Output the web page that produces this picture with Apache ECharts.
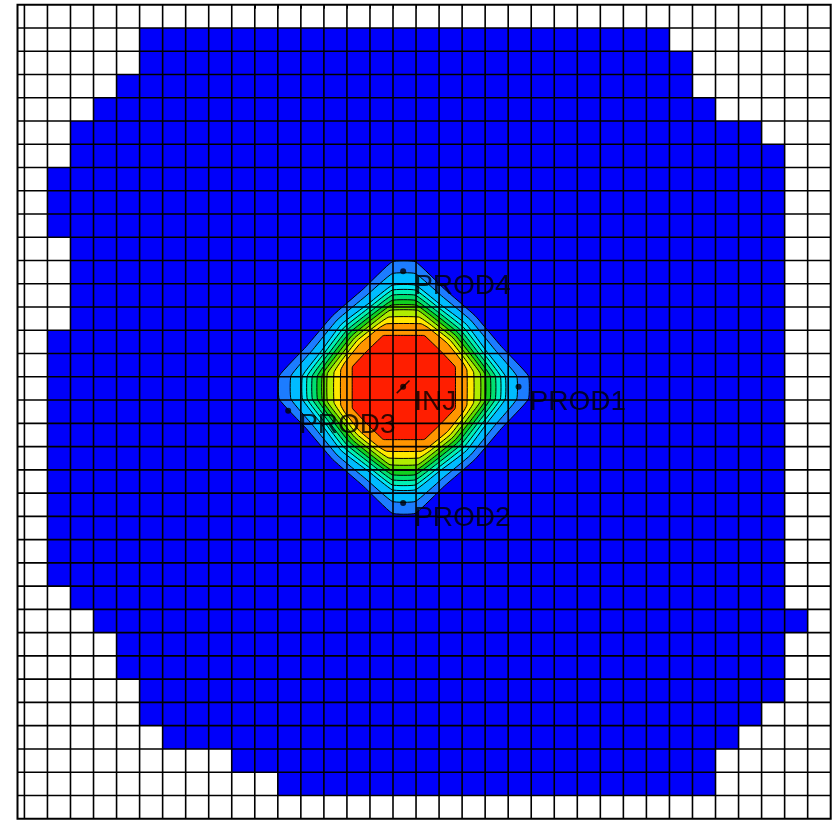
<!DOCTYPE html>
<html>
<head>
<meta charset="utf-8">
<script src="https://cdn.jsdelivr.net/npm/echarts@6/dist/echarts.min.js"></script>
<style>
  html, body { margin: 0; padding: 0; background: #ffffff; }
  #chart { width: 837px; height: 822px; }
</style>
</head>
<body>
<div id="chart"></div>
<script>
// Active cells of the 35-row grid: first and last active column in each row (row 0 = top)
const rowFirst = [null, 5, 5, 4, 3, 2, 2, 1, 1, 1, 2, 2, 2, 2, 1, 1, 1, 1, 1, 1, 1, 1, 1, 1, 1, 2, 3, 4, 4, 5, 5, 6, 9, 11, null];
const rowLast  = [null, 27, 28, 28, 29, 31, 32, 32, 32, 32, 32, 32, 32, 32, 32, 32, 32, 32, 32, 32, 32, 32, 32, 32, 32, 32, 33, 32, 32, 32, 31, 30, 29, 29, null];

// Contour bands around the injector, outermost first
const levelColors = ['#1c7cff', '#00bcff', '#00e8f4', '#00f0b4', '#00e070', '#10d020', '#60dc00', '#b0ec00', '#ffe800', '#ff9600', '#ff1e00'];
// Band boundary distance (cells) from the injector along the axes
const tipRadius = [5.41, 4.90, 4.40, 4.19, 3.97, 3.75, 3.54, 3.32, 3.03, 2.74, 2.24];
// Half width (cells) of the flat part at each axis tip
const tipHalfWidth = [0.5, 0.5, 0.5, 0.5, 0.5, 0.5, 0.55, 0.6, 0.65, 0.75, 0.85];
// Boundary distance at 22.5 degrees off the axes
const offAxisRadius = [4.59, 4.27, 3.93, 3.77, 3.60, 3.44, 3.28, 3.12, 2.95, 2.78, 2.40];
// Boundary distance on the diagonals
const diagonalRadius = [4.37, 4.10, 3.84, 3.66, 3.49, 3.33, 3.17, 3.02, 2.86, 2.68, 2.24];

// Wells: grid position (column, row) of each well marker
const wellNames = ['INJ', 'PROD1', 'PROD2', 'PROD3', 'PROD4'];
const wellCol = [16.44, 21.45, 16.44, 11.45, 16.44];
const wellRow = [16.43, 16.43, 21.43, 17.46, 11.46];

const plumeCenter = [wellCol[0] + 0.03, wellRow[0] + 0.03];

const cellBlue = '#0000fa';
const lineColor = '#000000';

// Column and row divisions of the grid
const colEdges = [];
for (let c = 0; c <= 35; c++) colEdges.push(c);
const rowEdges = [];
for (let r = 1; r <= 34; r++) rowEdges.push(r);

const cellData = [];
rowFirst.forEach(function (f, r) {
  if (f !== null) cellData.push([r, f, rowLast[r]]);
});

const lineData = [];
colEdges.forEach(function (c) { if (c < 35) lineData.push([0, c]); });
rowEdges.forEach(function (r) { lineData.push([1, r]); });

const X_MIN = -0.3, X_MAX = 35, Y_MIN = 0, Y_MAX = 35;

// Boundary of band i: 16 directions counter-clockwise from east
function contourPoints(api, i) {
  const pts = [];
  const cx = plumeCenter[0], cy = plumeCenter[1];
  const w = tipHalfWidth[i];
  for (let k = 0; k < 16; k++) {
    const a = k * Math.PI / 8;
    const ux = Math.cos(a), uy = Math.sin(a);
    if (k % 4 === 0) {
      const r = tipRadius[i];
      const ax = Math.round(ux), ay = Math.round(uy);
      const px = -ay, py = ax;
      const p1 = [r * ax - w * px, r * ay - w * py];
      const p2 = [r * ax + w * px, r * ay + w * py];
      pts.push(api.coord([cx + p1[0], cy - p1[1]]));
      pts.push(api.coord([cx + p2[0], cy - p2[1]]));
    } else {
      const r = (k % 2 === 0) ? diagonalRadius[i] : offAxisRadius[i];
      pts.push(api.coord([cx + r * ux, cy - r * uy]));
    }
  }
  return pts;
}

const chart = echarts.init(document.getElementById('chart'), null, { renderer: 'canvas' });

const option = {
  animation: false,
  backgroundColor: '#ffffff',
  grid: {
    left: 17.5, right: 6.3, top: 4.7, bottom: 3.3,
    show: true, borderColor: '#000000', borderWidth: 2, backgroundColor: 'transparent'
  },
  xAxis: {
    type: 'value', min: X_MIN, max: X_MAX,
    axisLine: { show: false },
    splitLine: { show: false },
    axisLabel: { show: false },
    axisTick: { show: true, inside: false, length: 4, customValues: colEdges, lineStyle: { color: '#000000', width: 1 } }
  },
  yAxis: {
    type: 'value', min: Y_MIN, max: Y_MAX, inverse: true,
    axisLine: { show: false }, splitLine: { show: false },
    axisLabel: { show: false }, axisTick: { show: false }
  },
  series: [
    {
      name: 'cells', type: 'custom', z: 1,
      data: cellData,
      renderItem: function (params, api) {
        const r = api.value(0), f = api.value(1), l = api.value(2);
        const p0 = api.coord([f, r]);
        const p1 = api.coord([l + 1, r + 1]);
        return {
          type: 'rect',
          shape: { x: p0[0], y: p0[1], width: p1[0] - p0[0], height: p1[1] - p0[1] },
          style: { fill: cellBlue, stroke: null }
        };
      }
    },
    {
      name: 'contours', type: 'custom', z: 2,
      data: levelColors.map(function (c, i) { return [i]; }),
      renderItem: function (params, api) {
        const i = api.value(0);
        return {
          type: 'polygon',
          shape: { points: contourPoints(api, i), smooth: 0.12 },
          style: { fill: levelColors[i], stroke: '#000000', lineWidth: 1 }
        };
      }
    },
    {
      name: 'gridlines', type: 'custom', z: 3,
      data: lineData,
      renderItem: function (params, api) {
        const kind = api.value(0), v = api.value(1);
        let a, b;
        if (kind === 0) { a = api.coord([v, Y_MIN]); b = api.coord([v, Y_MAX]); }
        else { a = api.coord([X_MIN, v]); b = api.coord([X_MAX, v]); }
        return {
          type: 'line',
          shape: { x1: a[0], y1: a[1], x2: b[0], y2: b[1] },
          style: { stroke: lineColor, lineWidth: 1.6 }
        };
      }
    },
    {
      name: 'injector-trace', type: 'scatter', z: 4,
      symbol: 'path://M0,0 L20,0 L20,2 L0,2 Z',
      symbolSize: [18, 1.6], symbolRotate: 45,
      itemStyle: { color: '#000000' },
      data: [[wellCol[0], wellRow[0]]]
    },
    {
      name: 'wells', type: 'scatter', z: 5,
      symbol: 'circle', symbolSize: 6,
      itemStyle: { color: '#000000' },
      label: {
        show: true, position: [14, 18], align: 'left', verticalAlign: 'middle',
        formatter: '{b}', color: '#000000',
        fontFamily: 'Liberation Sans, Arial, sans-serif', fontSize: 28
      },
      data: wellNames.map(function (n, i) { return { name: n, value: [wellCol[i], wellRow[i]] }; })
    }
  ]
};
chart.setOption(option);
</script>
</body>
</html>
